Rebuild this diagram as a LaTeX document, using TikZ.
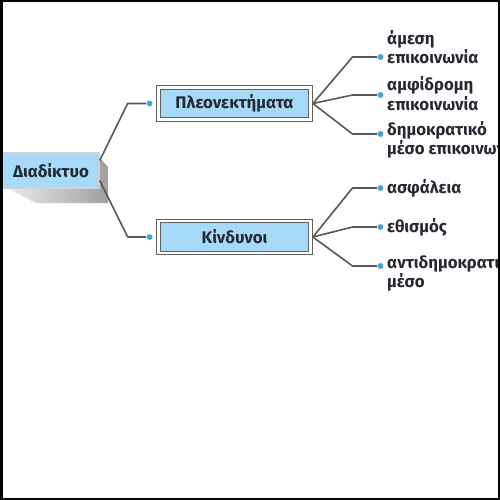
\documentclass[tikz,border=0pt]{standalone}
\usepackage{fontspec}
\setmainfont{Fira Sans}
\usepackage{xcolor}
\usepackage{tikz}
\usetikzlibrary{positioning}
\definecolor{boxblue}{RGB}{166,218,248}
\definecolor{dotblue}{RGB}{70,160,210}
\definecolor{linegray}{RGB}{88,88,88}
\definecolor{textdark}{RGB}{36,40,48}

\begin{document}
\begin{tikzpicture}[
  x=1pt, y=-1pt,
  every node/.style={font=\fontsize{16.8}{19.5}\selectfont\bfseries, text=textdark},
  rootbox/.style={draw=gray!35, line width=1.5pt, fill=boxblue, minimum width=96pt, minimum height=35pt, inner sep=0pt},
  catbox/.style={draw=gray!75!black, line width=0.8pt, double=white, double distance=2.6pt, fill=boxblue, minimum width=152pt, minimum height=32pt, inner sep=0pt},
  bdot/.style={circle, fill=dotblue, draw=white, line width=0.4pt, inner sep=0pt, minimum size=6.5pt},
  item/.style={anchor=west, align=left, inner sep=0pt},
  link/.style={draw=linegray, line width=1.6pt, line join=round}
]
\useasboundingbox (0,0) rectangle (500,500);
\clip (0,0) rectangle (500,500);
\fill[white] (0,0) rectangle (500,500);

% root with its 3d shadow
\shade[left color=gray!15, right color=gray!75] (99,157) -- (108,167) -- (108,203) -- (36,203) -- (6,188) -- (99,188) -- cycle;
\node[rootbox] (net) at (51,170.5) {Διαδίκτυο};

\node[catbox] (pros) at (234.5,103.5) {Πλεονεκτήματα};
\node[catbox] (risk) at (234.5,237) {Κίνδυνοι};
\node[bdot, left=5pt of pros] (dpros) {};
\node[bdot, left=5pt of risk] (drisk) {};

% leaf dots
\node[bdot] (a1) at (380.5,57) {};
\node[bdot] (a2) at (380.5,95) {};
\node[bdot] (a3) at (380.5,134) {};
\node[bdot] (b1) at (380.5,188) {};
\node[bdot] (b2) at (380.5,227) {};
\node[bdot] (b3) at (380.5,266) {};

\node[item] (ta1) at (387,47) {άμεση\\επικοινωνία};
\node[item] (ta2) at (387,93.5) {αμφίδρομη\\επικοινωνία};
\node[item] (ta3) at (387,140) {δημοκρατικό\\μέσο επικοινωνίας};
\node[item] (tb1) at (387,188) {ασφάλεια};
\node[item] (tb2) at (387,227) {εθισμός};
\node[item] (tb3) at (387,273) {αντιδημοκρατικό\\μέσο};

\draw[link] ([yshift=10pt]net.east) -- ([xshift=-22pt]dpros.center) -- (dpros);
\draw[link] ([yshift=-10pt]net.east) -- ([xshift=-22pt]drisk.center) -- (drisk);
\foreach \d in {a1,a2,a3}
  \draw[link] ([xshift=2pt]pros.east) -- ([xshift=-28pt]\d.center) -- (\d);
\foreach \d in {b1,b2,b3}
  \draw[link] ([xshift=2pt]risk.east) -- ([xshift=-28pt]\d.center) -- (\d);

\draw[line width=5pt] (0,0) rectangle (500,500);
\end{tikzpicture}
\end{document}
